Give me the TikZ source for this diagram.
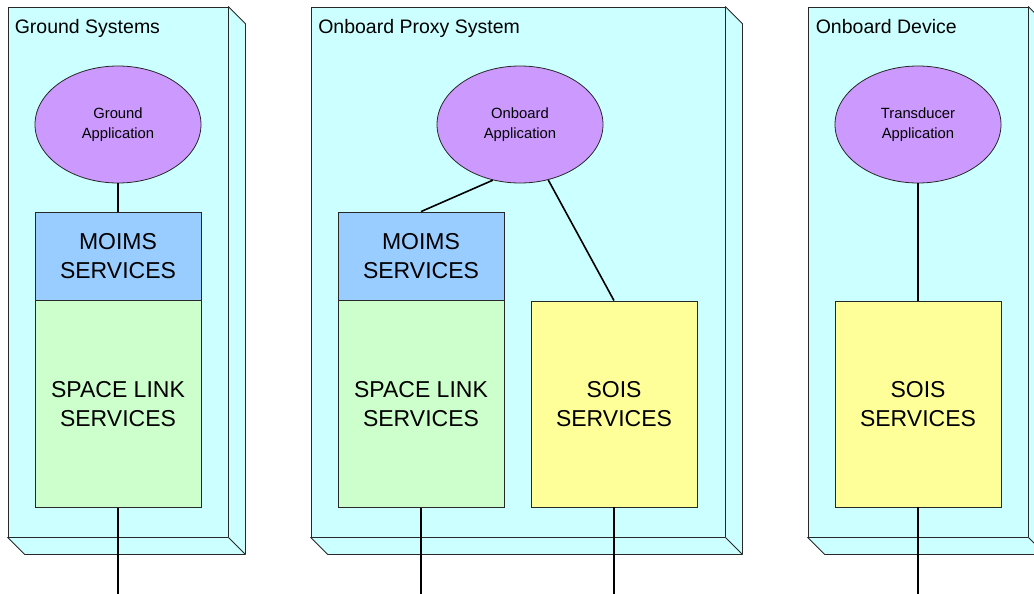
\documentclass[tikz,border=0pt]{standalone}
\usepackage{fontspec}
\setmainfont{Liberation Sans}
\usetikzlibrary{positioning,shapes.geometric,calc}
\definecolor{slabcyan}{RGB}{204,255,255}
\definecolor{applilac}{RGB}{204,153,255}
\definecolor{moimsblue}{RGB}{153,204,255}
\definecolor{linkgreen}{RGB}{204,255,204}
\definecolor{soisyellow}{RGB}{255,255,153}
\definecolor{rim}{RGB}{40,40,40}
\tikzset{
  slab/.style={draw=rim,line width=0.8pt,fill=slabcyan,minimum height=530pt,inner sep=0pt},
  side/.style={draw=rim,line width=0.8pt,fill=slabcyan,line join=round},
  heading/.style={font=\fontsize{19.5}{23}\selectfont,inner sep=0pt,anchor=base west},
  app/.style={ellipse,draw=rim,line width=0.8pt,fill=applilac,minimum width=166pt,minimum height=117pt,inner sep=0pt,align=center,font=\fontsize{14.8}{19.5}\selectfont},
  svc/.style={draw=rim,line width=0.8pt,minimum width=166pt,inner sep=0pt,align=center,font=\fontsize{23}{29}\selectfont},
  moims/.style={svc,fill=moimsblue,minimum height=88pt},
  spacelink/.style={svc,fill=linkgreen,minimum height=207pt},
  sois/.style={svc,fill=soisyellow,minimum height=206pt},
  wire/.style={draw=black,line width=1.6pt}
}

\begin{document}
\begin{tikzpicture}[x=1pt,y=-1pt]
  \useasboundingbox (0,0) rectangle (1034,594);
  % front faces of the three systems
  \node[slab,minimum width=220pt] (gframe) at (118,272) {};
  \node[slab,minimum width=414pt] (pframe) at (518,272) {};
  \node[slab,minimum width=220pt] (dframe) at (918,272) {};
  % depth of each slab
  \foreach \f in {gframe,pframe,dframe} {
    \draw[side] (\f.north east) -- ++(17,17) -- ($(\f.south east)+(17,17)$)
      -- ($(\f.south west)+(17,17)$) -- (\f.south west) -- (\f.south east) -- cycle;
    \draw[side] (\f.south east) -- ++(17,17);
  }
  \node[heading] (gtitle) at ($(gframe.north west)+(7,26.5)$) {Ground Systems};
  \node[heading] (ptitle) at ($(pframe.north west)+(7.5,26.5)$) {Onboard Proxy System};
  \node[heading] (dtitle) at ($(dframe.north west)+(8,26.5)$) {Onboard Device};

  % applications
  \node[app] (gapp) at (118,124.5) {Ground\\Application};
  \node[app] (oapp) at (520,124.5) {Onboard\\Application};
  \node[app] (tapp) at (918,124.5) {Transducer\\Application};

  % service stacks
  \node[moims] (gmoims) at (118,256) {MOIMS\\SERVICES};
  \node[spacelink,below=0pt of gmoims] (glink) {SPACE LINK\\SERVICES};
  \node[moims] (pmoims) at (421,256) {MOIMS\\SERVICES};
  \node[spacelink,below=0pt of pmoims] (plink) {SPACE LINK\\SERVICES};
  \node[sois] (psois) at (614,404) {SOIS\\SERVICES};
  \node[sois] (dsois) at (918,404) {SOIS\\SERVICES};

  \draw[wire] (gapp) -- (gmoims);
  \draw[wire] (oapp.244) -- (pmoims.north);
  \draw[wire] (oapp.297) -- (psois.north);
  \draw[wire] (tapp) -- (dsois);

  % leads running off the bottom edge
  \coordinate (gend) at (118,594);
  \coordinate (pend) at (421,594);
  \coordinate (send) at (614,594);
  \coordinate (dend) at (918,594);
  \draw[wire] (glink) -- (gend);
  \draw[wire] (plink) -- (pend);
  \draw[wire] (psois) -- (send);
  \draw[wire] (dsois) -- (dend);
\end{tikzpicture}
\end{document}
